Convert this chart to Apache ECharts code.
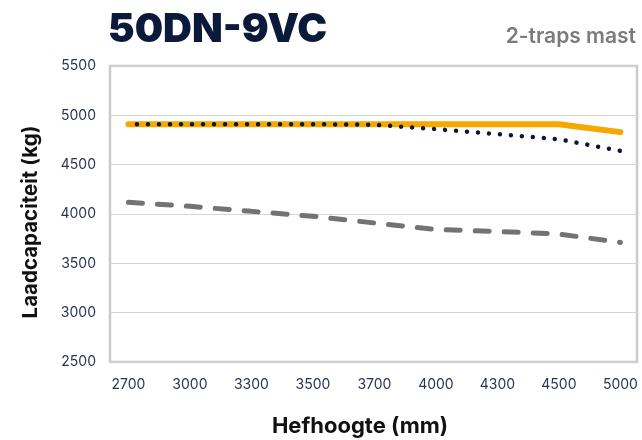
<!DOCTYPE html>
<html>
<head>
<meta charset="utf-8">
<script src="https://cdn.jsdelivr.net/npm/echarts@6/dist/echarts.min.js"></script>
<style>html,body{margin:0;padding:0;background:#fff}#c{width:642px;height:440px}</style>
</head>
<body>
<div id="c"></div>
<script>
var categories = ['2700','3000','3300','3500','3700','4000','4300','4500','5000'];
var seriesSolid  = [4910,4910,4910,4910,4910,4910,4910,4910,4830];
var seriesDotted = [4910,4910,4910,4910,4905,4860,4810,4757,4640];
var seriesDashed = [4118,4078,4027,3977,3909,3843,3823,3797,3712];
var yTicks = [2500,3000,3500,4000,4500,5000,5500];

function pts(arr){ return arr.map(function(v,i){ return [i, v]; }); }

var chart = echarts.init(document.getElementById('c'));
var labelColor = '#2b3553';
chart.setOption({
  animation: false,
  title: [
    {text: '50DN-9VC', left: 103, top: 5,
     textStyle: {fontFamily: 'Inter', fontWeight: 900, fontSize: 40, color: '#0b1a3b'}},
    {text: '2-traps mast', right: 1, top: 21,
     textStyle: {fontFamily: 'Inter', fontWeight: 600, fontSize: 21, color: '#7b7b7b'}}
  ],
  grid: {left: 110, right: 5, top: 66, bottom: 78, show: true, borderColor: '#c9cbce', borderWidth: 2.5},
  xAxis: {
    type: 'value', min: -0.3, max: 8.27,
    axisLine: {show: false}, axisTick: {show: false}, splitLine: {show: false},
    axisLabel: {customValues: [0,1,2,3,4,5,6,7,8], formatter: function(v){ return categories[Math.round(v)]; },
      color: labelColor, fontFamily: 'Inter', fontSize: 14, margin: 16}
  },
  yAxis: {
    type: 'value', min: yTicks[0], max: yTicks[yTicks.length-1], interval: 500,
    axisLine: {show: false}, axisTick: {show: false},
    splitLine: {lineStyle: {color: '#d2d4d7', width: 1}},
    axisLabel: {color: labelColor, fontFamily: 'Inter', fontSize: 14, margin: 14,
      formatter: function(v){ return String(v); }}
  },
  graphic: [
    {type: 'text', x: 360, y: 426, style: {text: 'Hefhoogte (mm)', align: 'center', verticalAlign: 'middle',
      font: 'bold 22px Inter', fill: '#111'}},
    {type: 'text', x: 31, y: 222, rotation: Math.PI / 2, style: {text: 'Laadcapaciteit (kg)', align: 'center', verticalAlign: 'middle',
      font: 'bold 20.5px Inter', fill: '#111'}}
  ],
  series: [
    {type: 'line', data: pts(seriesSolid), symbol: 'none', z: 2,
     lineStyle: {color: '#f6a800', width: 6, cap: 'round', join: 'round'}},
    {type: 'line', data: pts(seriesDotted), symbol: 'none', z: 3,
     lineStyle: {color: '#0a1838', width: 4.5, type: [0.01, 11], dashOffset: 2.5, cap: 'round'}},
    {type: 'line', data: pts(seriesDashed), symbol: 'none', z: 2,
     lineStyle: {color: '#737373', width: 5, type: [14, 15], cap: 'round'}}
  ]
});
</script>
</body>
</html>
